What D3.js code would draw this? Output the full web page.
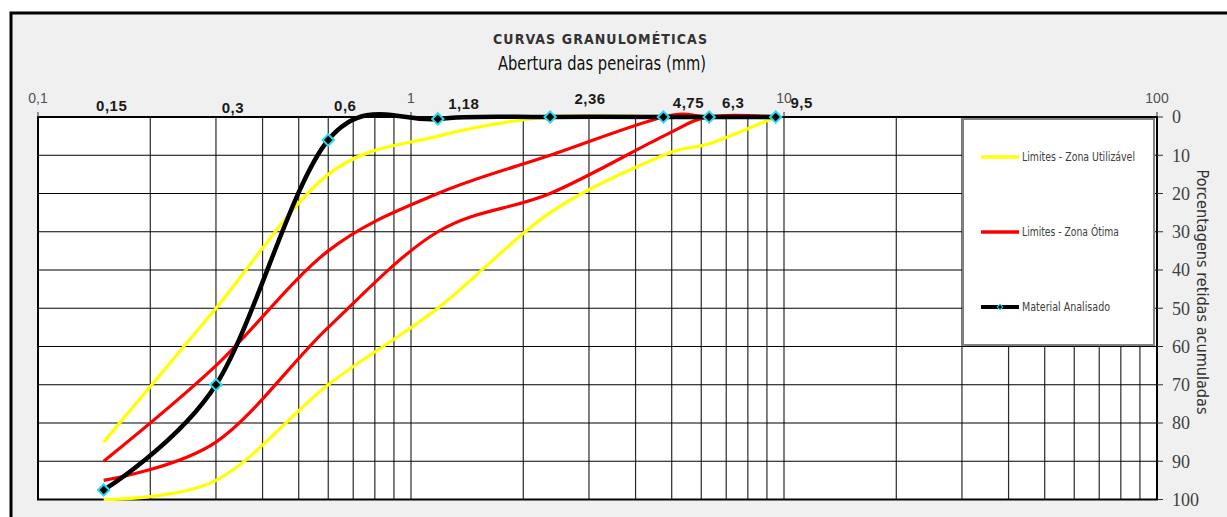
<!DOCTYPE html>
<html>
<head>
<meta charset="utf-8">
<script src="https://cdn.jsdelivr.net/npm/d3@7"></script>
<style>
  html, body { margin: 0; padding: 0; background: #ffffff; }
  svg { display: block; }
</style>
</head>
<body>
<svg id="chart" width="1227" height="517"></svg>
<script>
// ---------- DATA ----------
const sieves = [0.15, 0.3, 0.6, 1.18, 2.36, 4.75, 6.3, 9.5];
const sieveLabels = ["0,15", "0,3", "0,6", "1,18", "2,36", "4,75", "6,3", "9,5"];
const utilUpper = [100, 95, 70, 50, 25, 10, 7, 0];
const utilLower = [85, 50, 15, 5, 0, 0, 0, 0];
const otimaUpper = [95, 85, 55, 30, 20, 5, 0, 0];
const otimaLower = [90, 65, 35, 20, 10, 0, 0, 0];
const material = [97.5, 70, 6, 0.5, 0, 0, 0, 0];
const xDecades = [0.1, 1, 10, 100];
const xDecadeLabels = ["0,1", "1", "10", "100"];
const yTicks = [0, 10, 20, 30, 40, 50, 60, 70, 80, 90, 100];
const legendNames = ["Limites - Zona Utilizável", "Limites - Zona Ótima", "Material Analisado"];
const chartTitle = "CURVAS GRANULOMÉTICAS";
const chartSubtitle = "Abertura das peneiras (mm)";
const yTitle = "Porcentagens retidas acumuladas";

// ---------- LAYOUT / STYLE ----------
const svg = d3.select("#chart");
const L = 38, R = 1157, T = 117, B = 499.5;
const x = d3.scaleLog().domain([0.1, 100]).range([L, R]);
const y = d3.scaleLinear().domain([0, 100]).range([T, B]);
const YELLOW = "#ffff00", RED = "#ff0000", CYAN = "#22dcee";
const COND = "DejaVu Sans Condensed, Liberation Sans Narrow, sans-serif";
// per-label nudges of the bold sieve labels (dx from sieve position, baseline y)
const sieveLabelNudge = [[8, 111], [17, 113], [17, 111], [26, 109], [40, 104], [25, 108], [24, 108], [26, 108]];

// frame
svg.append("rect").attr("x", 0).attr("y", 0).attr("width", 1227).attr("height", 517).attr("fill", "#ffffff");
svg.append("rect").attr("x", 11).attr("y", 13).attr("width", 1400).attr("height", 700)
  .attr("fill", "#f0f0f0").attr("stroke", "#000").attr("stroke-width", 3);

// plot background
svg.append("rect").attr("x", L).attr("y", T).attr("width", R - L).attr("height", B - T).attr("fill", "#fff");

// vertical grid (log)
const gridX = [];
for (let d = 0.1; d < 100; d *= 10) {
  for (let k = 1; k <= 10; k++) gridX.push(+(d * k).toPrecision(3));
}
const uniq = Array.from(new Set(gridX));
svg.append("g").selectAll("line").data(uniq).join("line")
  .attr("x1", d => x(d)).attr("x2", d => x(d)).attr("y1", T).attr("y2", B)
  .attr("stroke", "#2a2a2a").attr("stroke-width", 1.2);

// horizontal grid
svg.append("g").selectAll("line").data(yTicks).join("line")
  .attr("x1", L).attr("x2", R).attr("y1", d => y(d)).attr("y2", d => y(d))
  .attr("stroke", "#000").attr("stroke-width", 1.2);

// plot border
svg.append("rect").attr("x", L).attr("y", T).attr("width", R - L).attr("height", B - T)
  .attr("fill", "none").attr("stroke", "#000").attr("stroke-width", 2);

// top axis decade ticks + labels
const topAx = svg.append("g");
topAx.selectAll("line").data(xDecades).join("line")
  .attr("x1", d => x(d)).attr("x2", d => x(d)).attr("y1", T - 5).attr("y2", T)
  .attr("stroke", "#333").attr("stroke-width", 1);
topAx.selectAll("text").data(xDecades).join("text")
  .attr("x", d => x(d)).attr("y", 103)
  .attr("text-anchor", "middle")
  .attr("font-family", "Liberation Sans, Arial, sans-serif").attr("font-size", 14)
  .attr("fill", "#505050")
  .text((d, i) => xDecadeLabels[i]);

// bold sieve labels
svg.append("g").selectAll("text").data(sieves).join("text")
  .attr("x", (d, i) => x(d) + sieveLabelNudge[i][0]).attr("y", (d, i) => sieveLabelNudge[i][1])
  .attr("text-anchor", "middle")
  .attr("font-family", "Liberation Sans, Arial, sans-serif").attr("font-weight", "bold").attr("font-size", 15)
  .attr("letter-spacing", 0.5)
  .attr("fill", "#1a1a1a")
  .text((d, i) => sieveLabels[i]);

// right axis
const rAx = svg.append("g");
rAx.selectAll("line").data(yTicks).join("line")
  .attr("x1", R).attr("x2", R + 6).attr("y1", d => y(d)).attr("y2", d => y(d))
  .attr("stroke", "#333").attr("stroke-width", 1);
rAx.selectAll("text").data(yTicks).join("text")
  .attr("x", R + 15).attr("y", d => y(d)).attr("dy", "0.36em")
  .attr("font-family", "Liberation Serif, DejaVu Serif, serif").attr("font-size", 18)
  .attr("fill", "#404040")
  .text(d => d);

svg.append("text")
  .attr("transform", `translate(1197,292) rotate(90)`)
  .attr("text-anchor", "middle")
  .attr("font-family", COND)
  .attr("font-size", 16).attr("fill", "#333")
  .attr("textLength", 245).attr("lengthAdjust", "spacingAndGlyphs")
  .text(yTitle);

// titles
svg.append("text").attr("x", 600).attr("y", 44).attr("text-anchor", "middle")
  .attr("font-family", COND)
  .attr("font-size", 14).attr("font-weight", 600).attr("fill", "#333")
  .attr("textLength", 214).attr("lengthAdjust", "spacing")
  .text(chartTitle);
svg.append("text").attr("x", 602).attr("y", 70).attr("text-anchor", "middle")
  .attr("font-family", COND)
  .attr("font-size", 20).attr("fill", "#111")
  .attr("textLength", 208).attr("lengthAdjust", "spacingAndGlyphs")
  .text(chartSubtitle);

// series
const series = [
  { vals: utilUpper, color: YELLOW, w: 3.2 },
  { vals: utilLower, color: YELLOW, w: 3.2 },
  { vals: otimaUpper, color: RED, w: 3.2 },
  { vals: otimaLower, color: RED, w: 3.2 },
  { vals: material, color: "#000", w: 4.5 }
];
const line = d3.line().x(d => x(d[0])).y(d => y(d[1])).curve(d3.curveCatmullRom.alpha(0));
const clip = svg.append("clipPath").attr("id", "pc").append("rect")
  .attr("x", L).attr("y", T - 6).attr("width", R - L).attr("height", B - T + 12);
const sg = svg.append("g").attr("clip-path", "url(#pc)");
series.forEach(s => {
  sg.append("path").datum(sieves.map((v, i) => [v, s.vals[i]]))
    .attr("d", line).attr("fill", "none")
    .attr("stroke", s.color).attr("stroke-width", s.w)
    .attr("stroke-linejoin", "round").attr("stroke-linecap", "butt");
});
// markers
svg.append("g").selectAll("rect").data(sieves.map((v, i) => [v, material[i]])).join("rect")
  .attr("x", -4).attr("y", -4).attr("width", 8).attr("height", 8)
  .attr("transform", d => `translate(${x(d[0])},${y(d[1])}) rotate(45)`)
  .attr("fill", "#000").attr("stroke", CYAN).attr("stroke-width", 2);

// legend
const lg = svg.append("g");
lg.append("rect").attr("x", 963).attr("y", 119).attr("width", 191).attr("height", 226)
  .attr("fill", "#fff").attr("stroke", "#808080").attr("stroke-width", 2);
const legColors = [YELLOW, RED, "#000"];
const legY = [157, 232, 307];
const legLen = [113, 97, 88];
legendNames.forEach((n, i) => {
  lg.append("line").attr("x1", 981).attr("x2", 1019).attr("y1", legY[i]).attr("y2", legY[i])
    .attr("stroke", legColors[i]).attr("stroke-width", i === 2 ? 4 : 3.5);
  lg.append("text").attr("x", 1022).attr("y", legY[i] + 4)
    .attr("font-family", COND)
    .attr("font-size", 12).attr("fill", "#404040")
    .attr("textLength", legLen[i]).attr("lengthAdjust", "spacingAndGlyphs")
    .text(n);
});
lg.append("rect").attr("x", -2).attr("y", -2).attr("width", 4).attr("height", 4)
  .attr("transform", `translate(1000,307) rotate(45)`)
  .attr("fill", "#000").attr("stroke", CYAN).attr("stroke-width", 1);
</script>
</body>
</html>
